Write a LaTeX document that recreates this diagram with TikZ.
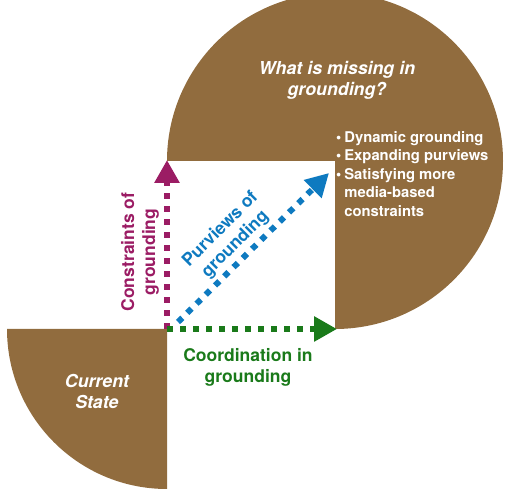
\documentclass[tikz,border=0pt]{standalone}
\usepackage{fontspec}
\setmainfont{TeX Gyre Heros}
\usetikzlibrary{arrows.meta}
\usetikzlibrary{positioning}

\definecolor{gbrown}{RGB}{145,108,62}
\definecolor{gmaroon}{RGB}{155,28,100}
\definecolor{gblue}{RGB}{14,122,192}
\definecolor{ggreen}{RGB}{26,122,26}

\tikzset{
    dotline/.style={line width=6pt,dash pattern=on 6pt off 7pt,
        -{Triangle[length=23pt,width=24pt]}},
    whitetxt/.style={text=white,font=\fontsize{17.8}{21}\selectfont\bfseries\itshape,align=center},
    axistxt/.style={font=\fontsize{17.5}{21}\selectfont\bfseries,align=center}
}

\begin{document}
\begin{tikzpicture}[x=1pt,y=1pt]
                \useasboundingbox (0,0) rectangle (509,497);

                % corners
                \coordinate (O) at (167,168);
                \coordinate (C) at (335,336);

                % big circle, lower left quarter cut away
                \fill[gbrown] (C) -- ++(-168,0) arc[start angle=180,end angle=-90,radius=168] -- cycle;
                % small quarter
                \fill[gbrown] (O) -- ++(-160,0) arc[start angle=180,end angle=270,radius=160] -- cycle;

                \coordinate (Up) at (167,337);
                \coordinate (Rt) at (337,168);
                \coordinate (Bs) at (178,175);
                \coordinate (Bt) at (329,324);

                \draw[dotline,gmaroon] (O) -- (Up);
                \draw[dotline,ggreen] (O) -- (Rt);
                \draw[dotline,gblue] (Bs) -- (Bt);

                \node[whitetxt] (miss) at (337,417) {What is missing in\\grounding?};
                \node[whitetxt] (cur) at (97,105) {Current\\State};

                \node[text=white,font=\fontsize{14.8}{18.5}\selectfont\bfseries,anchor=west,inner sep=0pt] (lst) at (336,321.5)
                    {\begin{tabular}{@{}l@{\hspace{3pt}}l@{}}
                        \textbullet & Dynamic grounding\\
                        \textbullet & Expanding purviews\\
                        \textbullet & Satisfying more\\
                                    & media-based\\
                                    & constraints
                    \end{tabular}};

                \node[axistxt,text=gmaroon,rotate=90] (cons) at (140,245) {Constraints of\\grounding};
                \node[axistxt,text=gblue,rotate=45] (purv) at (228,260) {Purviews of\\grounding};
                \node[axistxt,text=ggreen] (coord) at (248,130) {Coordination in\\grounding};
\end{tikzpicture}
\end{document}
